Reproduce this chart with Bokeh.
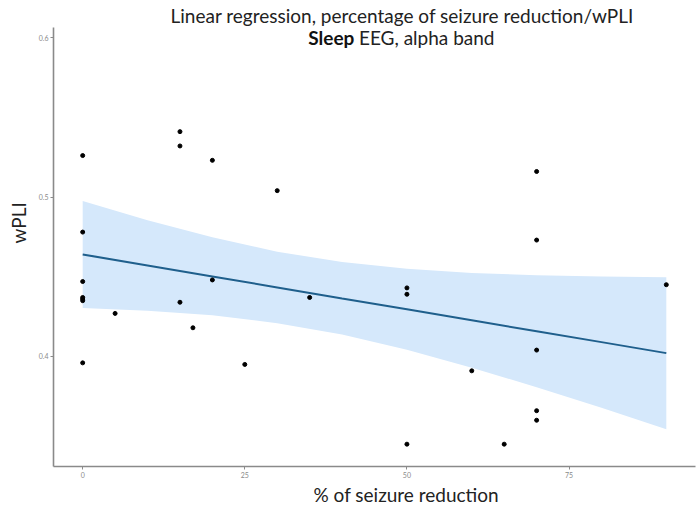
from bokeh.plotting import figure
from bokeh.models import Range1d, Label, FixedTicker, ColumnDataSource, Title
from bokeh.embed import file_html
from bokeh.resources import INLINE

# data points (% seizure reduction, wPLI)
reduction = [0, 0, 0, 0, 0, 0, 0, 5, 15, 15, 15, 17, 20, 20, 25, 30, 35,
             50, 50, 50, 60, 65, 70, 70, 70, 70, 70, 90]
wpli = [0.526, 0.478, 0.447, 0.437, 0.436, 0.435, 0.396, 0.427, 0.541, 0.532, 0.434, 0.418,
        0.523, 0.448, 0.395, 0.504, 0.437, 0.443, 0.439, 0.345, 0.391, 0.345,
        0.516, 0.473, 0.404, 0.366, 0.360, 0.445]

# fitted line and confidence band
fit_x = [0, 10, 20, 30, 40, 50, 60, 70, 80, 90]
fit_y = [0.4640, 0.4571, 0.4502, 0.4433, 0.4364, 0.4296, 0.4227, 0.4158, 0.4090, 0.4021]
band_upper = [0.4975, 0.4855, 0.4747, 0.4657, 0.4592, 0.4550, 0.4524, 0.4509, 0.4502, 0.4497]
band_lower = [0.4304, 0.4287, 0.4258, 0.4209, 0.4137, 0.4042, 0.3930, 0.3807, 0.3678, 0.3544]

x_ticks = [0, 25, 50, 75]
y_ticks = [0.4, 0.5, 0.6]

title_line1 = "Linear regression, percentage of seizure reduction/wPLI"
title_bold = "Sleep"
title_rest = "EEG, alpha band"
x_label = "% of seizure reduction"
y_label = "wPLI"

font = "Lato"

p = figure(width=700, height=505, output_backend="svg", toolbar_location=None,
           x_range=Range1d(-4.5, 94.5), y_range=Range1d(0.331, 0.6063),
           min_border_left=53, min_border_right=5, min_border_top=27, min_border_bottom=39)
p.background_fill_color = "white"
p.border_fill_color = "white"
p.outline_line_color = None
p.grid.visible = False

band = ColumnDataSource(dict(x=fit_x, lo=band_lower, hi=band_upper, y=fit_y))
p.varea(x="x", y1="lo", y2="hi", source=band, fill_color="#d5e8fb", fill_alpha=1.0)
p.line(x="x", y="y", source=band, line_color="#1f5f8c", line_width=2)
p.scatter(reduction, wpli, size=4, color="black")

for ax, ticks in ((p.xaxis, x_ticks), (p.yaxis, y_ticks)):
    ax.ticker = FixedTicker(ticks=ticks)
    ax.axis_line_color = "#8a8a8a"
    ax.axis_line_width = 1.6
    ax.major_tick_line_color = "#8a8a8a"
    ax.major_tick_out = 3
    ax.major_tick_in = 0
    ax.minor_tick_line_color = None
    ax.major_label_text_color = "#8a8a8a"
    ax.major_label_text_font_size = "7px"
    ax.major_label_text_font = font
    ax.major_label_standoff = 2

# title line 1 (above the panel)
p.add_layout(Title(text=title_line1, align="left", offset=117, standoff=2,
                   text_font=font, text_font_size="19px", text_font_style="normal",
                   text_color="#222222"), "above")
# x axis label (below the axis)
p.add_layout(Title(text=x_label, align="left", offset=260, standoff=0,
                   text_font=font, text_font_size="19px", text_font_style="normal",
                   text_color="#222222"), "below")
# y axis label (left of the axis)
p.add_layout(Title(text=y_label, align="left", offset=223, standoff=8, vertical_align="top",
                   text_font=font, text_font_size="19px", text_font_style="normal",
                   text_color="#222222"), "left")

# title line 2 (inside the top of the panel)
p.add_layout(Label(x=41.9, y=0.6002, text=title_bold, text_align="right", text_baseline="alphabetic",
                   text_font=font, text_font_size="19px", text_font_style="bold", text_color="#111111"))
p.add_layout(Label(x=42.6, y=0.6002, text=title_rest, text_align="left", text_baseline="alphabetic",
                   text_font=font, text_font_size="19px", text_color="#222222"))

open("out.html", "w").write(file_html(p, INLINE))
